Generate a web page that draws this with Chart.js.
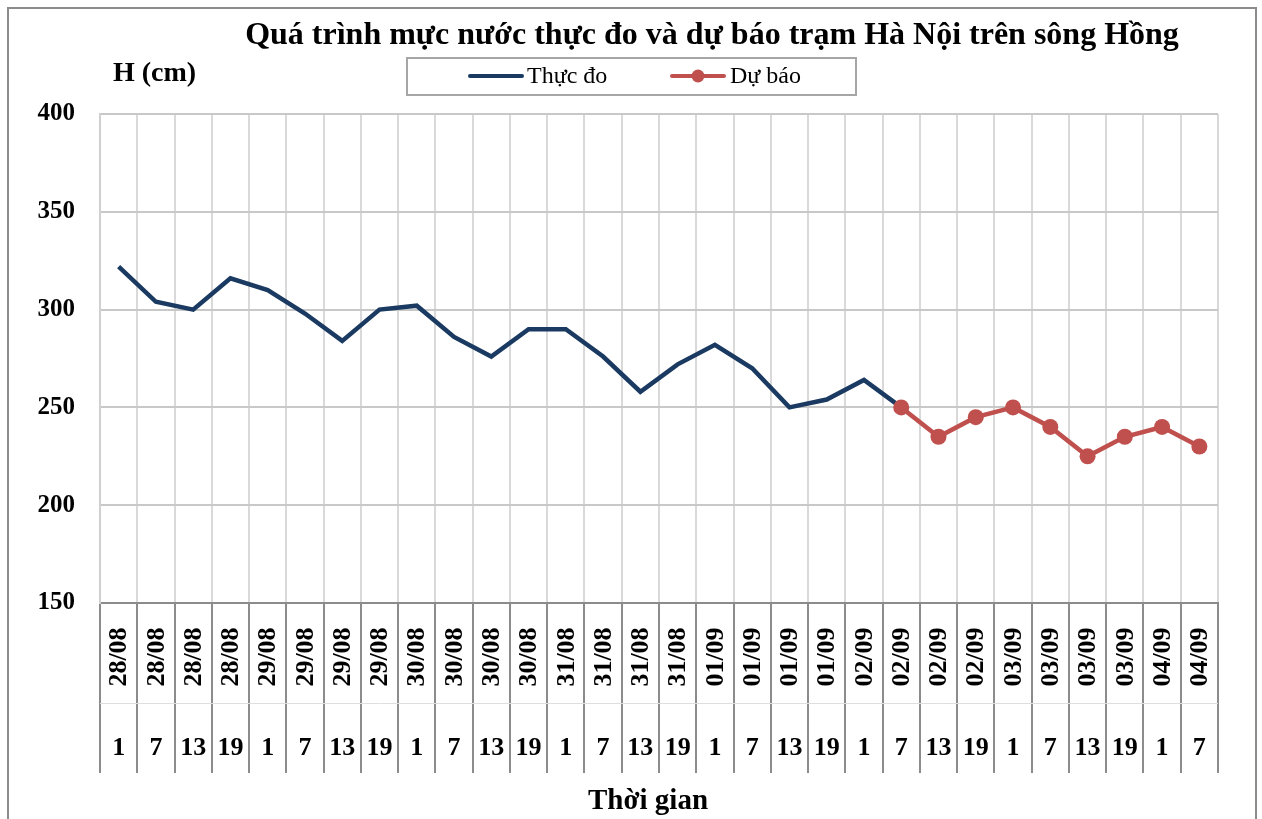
<!DOCTYPE html>
<html>
<head>
<meta charset="utf-8">
<script src="https://cdn.jsdelivr.net/npm/chart.js@4.4.1/dist/chart.umd.min.js"></script>
<style>
  html, body { margin: 0; padding: 0; background: #fff; }
  #khung { width: 1262px; height: 819px; }
</style>
</head>
<body>
<div id="khung"><canvas id="mucNuocChart"></canvas></div>
<script>
// Du lieu muc nuoc tram Ha Noi (cm)
var ngay = ['28/08','28/08','28/08','28/08','29/08','29/08','29/08','29/08',
            '30/08','30/08','30/08','30/08','31/08','31/08','31/08','31/08',
            '01/09','01/09','01/09','01/09','02/09','02/09','02/09','02/09',
            '03/09','03/09','03/09','03/09','04/09','04/09'];
var gio = ['1','7','13','19','1','7','13','19','1','7','13','19','1','7','13','19',
           '1','7','13','19','1','7','13','19','1','7','13','19','1','7'];
var thucDo = [322, 304, 300, 316, 310, 298, 284, 300, 302, 286, 276, 290, 290, 276, 258,
              272, 282, 270, 250, 254, 264, 250, null, null, null, null, null, null, null, null];
var duBao = [null, null, null, null, null, null, null, null, null, null, null, null, null, null, null,
             null, null, null, null, null, null, 250, 235, 245, 250, 240, 225, 235, 240, 230];
var yMin = 150, yMax = 400, yBuoc = 50;

var tieuDe = 'Quá trình mực nước thực đo và dự báo trạm Hà Nội trên sông Hồng';
var tenTrucX = 'Thời gian';
var tenTrucY = 'H (cm)';
var FONT = "'Liberation Serif', 'Times New Roman', serif";

// Plugin ve nen, khung, nhan ngay, tieu de va chu giai
var vePhu = {
  id: 'vePhu',
  beforeDraw: function (chart) {
    var ctx = chart.ctx;
    ctx.save();
    ctx.fillStyle = '#fff';
    ctx.fillRect(0, 0, chart.width, chart.height);
    ctx.restore();
  },
  afterDraw: function (chart) {
    var ctx = chart.ctx;
    var x = chart.scales.x;
    var a = chart.chartArea;
    ctx.save();

    // khung ngoai
    ctx.strokeStyle = '#8c8c8c';
    ctx.lineWidth = 2;
    ctx.strokeRect(8, 8, 1248, 830);

    // duong ke mo giua hang ngay va hang gio
    ctx.strokeStyle = '#dedede';
    ctx.lineWidth = 1;
    ctx.beginPath();
    ctx.moveTo(a.left, 703.5);
    ctx.lineTo(a.right, 703.5);
    ctx.stroke();

    // nhan ngay (xoay doc)
    ctx.fillStyle = '#000';
    ctx.font = 'bold 26px ' + FONT;
    ctx.textAlign = 'center';
    ctx.textBaseline = 'middle';
    for (var i = 0; i < ngay.length; i++) {
      var px = x.getPixelForValue(i);
      ctx.save();
      ctx.translate(px + 1, 657);
      ctx.rotate(-Math.PI / 2);
      ctx.fillText(ngay[i], 0, 0);
      ctx.restore();
    }

    // tieu de
    ctx.font = 'bold 32px ' + FONT;
    ctx.fillText(tieuDe, 712, 36);

    // ten truc x
    ctx.font = 'bold 29px ' + FONT;
    ctx.fillText(tenTrucX, 648, 802);

    // ten truc y
    ctx.font = 'bold 28px ' + FONT;
    ctx.textAlign = 'left';
    ctx.fillText(tenTrucY, 113, 74);

    // chu giai
    var ds = chart.data.datasets;
    ctx.strokeStyle = '#a6a6a6';
    ctx.lineWidth = 2;
    ctx.strokeRect(407, 58, 449, 37);
    ctx.lineCap = 'round';
    ctx.lineWidth = 4;
    ctx.strokeStyle = ds[1].borderColor;
    ctx.beginPath();
    ctx.moveTo(470, 76);
    ctx.lineTo(522, 76);
    ctx.stroke();
    ctx.strokeStyle = ds[0].borderColor;
    ctx.beginPath();
    ctx.moveTo(672, 76);
    ctx.lineTo(724, 76);
    ctx.stroke();
    ctx.fillStyle = ds[0].borderColor;
    ctx.beginPath();
    ctx.arc(698, 76, 6.5, 0, Math.PI * 2);
    ctx.fill();
    ctx.fillStyle = '#000';
    ctx.font = '24px ' + FONT;
    ctx.fillText(ds[1].label, 527, 77);
    ctx.fillText(ds[0].label, 730, 77);

    ctx.restore();
  }
};

var ctx = document.getElementById('mucNuocChart').getContext('2d');
var mucNuocChart = new Chart(ctx, {
  type: 'line',
  data: {
    labels: gio,
    datasets: [{
      label: 'Dự báo',
      data: duBao,
      borderColor: '#c0504d',
      backgroundColor: '#c0504d',
      borderWidth: 4.5,
      pointRadius: 8,
      pointBorderWidth: 0,
      pointBackgroundColor: '#c0504d',
      tension: 0,
      order: 0
    }, {
      label: 'Thực đo',
      data: thucDo,
      borderColor: '#1a3a62',
      backgroundColor: '#1a3a62',
      borderWidth: 4.5,
      pointRadius: 0,
      tension: 0,
      order: 1
    }]
  },
  options: {
    responsive: true,
    maintainAspectRatio: false,
    animation: false,
    layout: { padding: { top: 114, right: 44, left: 0, bottom: 0 } },
    plugins: {
      legend: { display: false },
      title: { display: false },
      tooltip: { enabled: false }
    },
    scales: {
      x: {
        offset: true,
        afterFit: function (scale) { scale.height = 216; },
        grid: {
          offset: true,
          color: '#d9d9d9',
          lineWidth: 2,
          drawTicks: true,
          tickLength: 170,
          tickColor: '#8c8c8c',
          tickWidth: 2
        },
        border: { color: '#8c8c8c', width: 2 },
        ticks: {
          autoSkip: false,
          maxRotation: 0,
          minRotation: 0,
          padding: -40,
          color: '#000',
          font: { family: FONT, size: 26, weight: 'bold' }
        }
      },
      y: {
        min: yMin,
        max: yMax,
        afterFit: function (scale) { scale.width = 100; },
        grid: { color: '#c8c8c8', lineWidth: 2, drawTicks: false },
        border: { color: '#d0d0d0', width: 2 },
        ticks: {
          stepSize: yBuoc,
          padding: 25,
          color: '#000',
          font: { family: FONT, size: 25, weight: 'bold' }
        }
      }
    }
  },
  plugins: [vePhu]
});
</script>
</body>
</html>
